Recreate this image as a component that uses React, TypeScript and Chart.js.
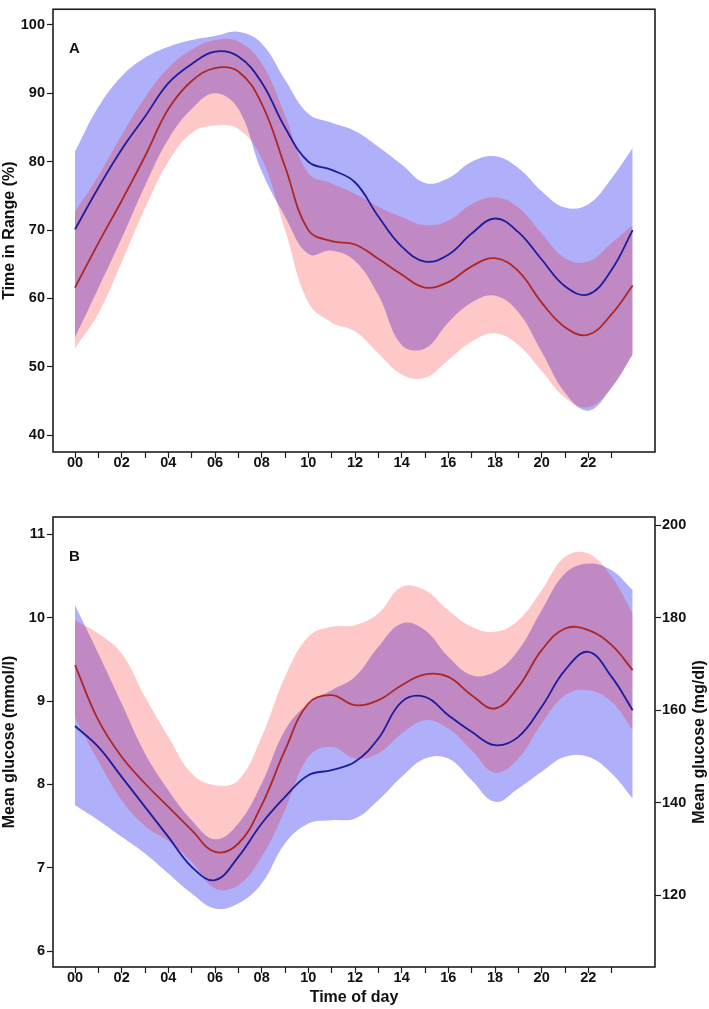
import React, { useEffect, useRef } from 'react';
import { Chart, registerables } from 'chart.js';

Chart.register(...registerables);

// ---------- data ----------
const hours = [0, 1, 2, 3, 4, 5, 6, 7, 8, 9, 10, 11, 12, 13, 14, 15, 16, 17, 18, 19, 20, 21, 22, 23, 23.9];
const hourTicks = [0, 1, 2, 3, 4, 5, 6, 7, 8, 9, 10, 11, 12, 13, 14, 15, 16, 17, 18, 19, 20, 21, 22, 23];
const hourTickLabels = ['00', '', '02', '', '04', '', '06', '', '08', '', '10', '', '12', '', '14', '', '16', '', '18', '', '20', '', '22', ''];

const tirTicks = [40, 50, 60, 70, 80, 90, 100];
const mmolTicks = [6, 7, 8, 9, 10, 11];
const mgdlTicks = [120, 140, 160, 180, 200];

// Panel A: Time in Range (%)
const tirBlueMean = [70.1, 76.2, 81.8, 86.6, 91.5, 94.3, 96.1, 95.4, 91.6, 85.0, 80.0, 78.8, 77.0, 72.0, 67.6, 65.4, 66.4, 69.5, 71.7, 69.7, 65.7, 61.8, 60.6, 64.2, 70.0];
const tirBlueUpper = [81.5, 88.0, 92.5, 95.2, 96.8, 97.8, 98.4, 99.0, 97.3, 92.0, 87.0, 85.7, 84.5, 82.2, 79.6, 76.9, 77.6, 80.0, 80.8, 79.1, 75.7, 73.3, 73.8, 77.6, 82.0];
const tirBlueLower = [54.3, 61.5, 68.8, 76.5, 83.3, 87.7, 90.0, 87.7, 78.6, 72.0, 66.5, 67.0, 65.5, 60.5, 53.2, 52.7, 56.5, 59.4, 60.4, 58.0, 52.2, 46.2, 43.6, 47.0, 51.8];
const tirRedMean = [61.6, 68.1, 74.3, 80.8, 87.7, 91.8, 93.7, 93.2, 88.5, 79.3, 70.0, 68.4, 67.9, 65.8, 63.5, 61.6, 62.4, 64.7, 65.9, 64.0, 59.4, 55.8, 54.7, 57.7, 61.9];
const tirRedUpper = [72.7, 77.9, 83.9, 89.4, 93.7, 96.4, 97.8, 97.6, 94.4, 86.8, 78.3, 76.8, 75.3, 73.4, 71.9, 70.7, 71.4, 73.8, 74.8, 73.3, 69.5, 65.9, 65.4, 68.1, 70.7];
const tirRedLower = [52.7, 57.8, 65.3, 73.2, 80.0, 84.2, 85.3, 84.8, 80.5, 70.0, 59.4, 56.5, 55.2, 52.0, 48.9, 48.4, 51.0, 53.7, 54.9, 53.2, 49.4, 45.5, 44.1, 47.0, 51.8];

// Panel B: Mean glucose (mmol/l)
const gluBlueMean = [8.70, 8.45, 8.09, 7.73, 7.37, 7.01, 6.85, 7.13, 7.53, 7.85, 8.11, 8.17, 8.27, 8.55, 8.99, 9.05, 8.83, 8.63, 8.47, 8.57, 8.93, 9.37, 9.59, 9.29, 8.89];
const gluBlueUpper = [10.15, 9.57, 8.97, 8.37, 7.93, 7.57, 7.34, 7.53, 8.01, 8.65, 8.97, 9.13, 9.29, 9.65, 9.93, 9.85, 9.53, 9.31, 9.35, 9.61, 10.09, 10.53, 10.65, 10.57, 10.33];
const gluBlueLower = [7.75, 7.57, 7.37, 7.17, 6.93, 6.69, 6.51, 6.57, 6.81, 7.29, 7.53, 7.57, 7.59, 7.81, 8.09, 8.31, 8.31, 8.05, 7.79, 7.95, 8.15, 8.33, 8.33, 8.13, 7.83];
const gluRedMean = [9.43, 8.77, 8.33, 8.01, 7.73, 7.45, 7.19, 7.29, 7.75, 8.41, 8.97, 9.07, 8.95, 9.01, 9.19, 9.32, 9.29, 9.07, 8.91, 9.17, 9.61, 9.87, 9.85, 9.67, 9.37];
const gluRedUpper = [9.97, 9.81, 9.57, 9.05, 8.57, 8.13, 7.99, 8.05, 8.57, 9.29, 9.77, 9.89, 9.91, 10.05, 10.37, 10.33, 10.09, 9.89, 9.83, 9.97, 10.33, 10.73, 10.77, 10.49, 10.05];
const gluRedLower = [8.80, 8.28, 7.81, 7.50, 7.32, 7.07, 6.75, 6.79, 7.13, 7.69, 8.33, 8.45, 8.31, 8.37, 8.61, 8.77, 8.67, 8.41, 8.14, 8.31, 8.73, 9.07, 9.13, 8.99, 8.65];

const MMOL_TO_MGDL = 18;

// ---------- styling ----------
const FONT = "'Liberation Sans', Arial, Helvetica, sans-serif";
const TEXT = '#111111';
const AXIS = '#1e1e1e';
const BLUE_LINE = '#1c1c9e';
const RED_LINE = '#ad2626';
const BLUE_BAND = 'rgb(175,175,250)';
const RED_BAND = 'rgba(255,0,0,0.215)';
const TENSION = 0.4;

const pts = (ys: number[]) => ys.map((y, i) => ({ x: hours[i], y }));

function lineDs(ys: number[], color: string) {
  return {
    data: pts(ys),
    borderColor: color,
    borderWidth: 1.8,
    pointRadius: 0,
    fill: false,
    tension: TENSION,
  };
}

function bandDs(upper: number[], lower: number[], color: string) {
  return [
    {
      data: pts(upper),
      borderColor: 'rgba(0,0,0,0)',
      borderWidth: 0,
      pointRadius: 0,
      backgroundColor: color,
      fill: '+1',
      tension: TENSION,
    },
    {
      data: pts(lower),
      borderColor: 'rgba(0,0,0,0)',
      borderWidth: 0,
      pointRadius: 0,
      fill: false,
      tension: TENSION,
    },
  ];
}

const decorPlugin = {
  id: 'panelDecor',
  afterDraw(chart: any, _args: any, opts: any) {
    const { ctx, chartArea } = chart;
    const { left, top, right, bottom } = chartArea;
    ctx.save();
    ctx.strokeStyle = AXIS;
    ctx.lineWidth = 1.6;
    ctx.strokeRect(left, top, right - left, bottom - top);
    ctx.fillStyle = TEXT;
    ctx.font = `bold 15px ${FONT}`;
    ctx.textAlign = 'center';
    ctx.textBaseline = 'middle';
    if (opts.label) ctx.fillText(opts.label, left + 21.5, top + 40);
    if (opts.rightTitle) {
      ctx.save();
      ctx.font = `bold 16px ${FONT}`;
      ctx.translate(chart.width - 9, (top + bottom) / 2);
      ctx.rotate(-Math.PI / 2);
      ctx.fillText(opts.rightTitle, 0, 0);
      ctx.restore();
    }
    ctx.restore();
  },
};

const tickFont = { family: FONT, size: 14.5, weight: 'bold' as const, lineHeight: 1 };
const titleFont = { family: FONT, size: 16, weight: 'bold' as const, lineHeight: 1.2 };

function xScale(height: number, title: string | null) {
  return {
    type: 'linear',
    min: -0.943,
    max: 24.857,
    afterBuildTicks: (s: any) => {
      s.ticks = hourTicks.map((v) => ({ value: v }));
    },
    afterFit: (s: any) => {
      s.height = height;
    },
    ticks: {
      autoSkip: false,
      maxRotation: 0,
      padding: -2,
      color: TEXT,
      font: tickFont,
      callback: (_v: any, i: number) => hourTickLabels[i],
    },
    grid: { drawOnChartArea: false, drawTicks: true, tickLength: 6, tickColor: AXIS, tickWidth: 1.2 },
    border: { display: false },
    title: title
      ? { display: true, text: title, color: TEXT, font: titleFont, padding: { top: 0, bottom: 2 } }
      : { display: false },
  };
}

function yScale(min: number, max: number, ticks: number[], position: string, width: number, title: string | null) {
  return {
    type: 'linear',
    position,
    min,
    max,
    afterBuildTicks: (s: any) => {
      s.ticks = ticks.map((v) => ({ value: v }));
    },
    afterFit: (s: any) => {
      s.width = width;
    },
    ticks: { padding: position === 'left' ? 2 : 1, color: TEXT, font: tickFont },
    grid: { drawOnChartArea: false, drawTicks: true, tickLength: 6, tickColor: AXIS, tickWidth: 1.2 },
    border: { display: false },
    title: title
      ? { display: true, text: title, color: TEXT, font: titleFont, padding: { top: 0, bottom: 0 } }
      : { display: false },
  };
}

export default function App() {
  const refA = useRef<HTMLCanvasElement | null>(null);
  const refB = useRef<HTMLCanvasElement | null>(null);

  useEffect(() => {
    // datasets are drawn last-to-first: blue band, then red band, then the lines
    const chartA = new Chart(refA.current as HTMLCanvasElement, {
      type: 'line',
      data: {
        datasets: [
          lineDs(tirBlueMean, BLUE_LINE),
          lineDs(tirRedMean, RED_LINE),
          ...bandDs(tirRedUpper, tirRedLower, RED_BAND),
          ...bandDs(tirBlueUpper, tirBlueLower, BLUE_BAND),
        ] as any,
      },
      options: {
        responsive: false,
        animation: false,
        layout: { padding: { top: 2, right: 54, left: 0, bottom: 0 } },
        plugins: {
          legend: { display: false },
          tooltip: { enabled: false },
          panelDecor: { label: 'A' },
        } as any,
        scales: {
          x: xScale(38, null),
          y: yScale(37.55, 102.3, tirTicks, 'left', 53, 'Time in Range (%)'),
        } as any,
      },
      plugins: [decorPlugin],
    });

    const bMin = 5.808;
    const bMax = 11.208;
    const chartB = new Chart(refB.current as HTMLCanvasElement, {
      type: 'line',
      data: {
        datasets: [
          lineDs(gluBlueMean, BLUE_LINE),
          lineDs(gluRedMean, RED_LINE),
          ...bandDs(gluRedUpper, gluRedLower, RED_BAND),
          ...bandDs(gluBlueUpper, gluBlueLower, BLUE_BAND),
        ] as any,
      },
      options: {
        responsive: false,
        animation: false,
        layout: { padding: { top: 27, right: 0, left: 0, bottom: 0 } },
        plugins: {
          legend: { display: false },
          tooltip: { enabled: false },
          panelDecor: { label: 'B', rightTitle: 'Mean glucose (mg/dl)' },
        } as any,
        scales: {
          x: xScale(42, 'Time of day'),
          y: yScale(bMin, bMax, mmolTicks, 'left', 53, 'Mean glucose (mmol/l)'),
          y2: {
            ...yScale(bMin * MMOL_TO_MGDL, bMax * MMOL_TO_MGDL, mgdlTicks, 'right', 54, null),
            display: true,
          },
        } as any,
      },
      plugins: [decorPlugin],
    });

    return () => {
      chartA.destroy();
      chartB.destroy();
    };
  }, []);

  return (
    <div style={{ position: 'absolute', left: 0, top: 0, width: 709, height: 1009, background: '#ffffff' }}>
      <canvas
        ref={refA}
        width={709}
        height={490}
        style={{ position: 'absolute', left: 0, top: 0, width: 709, height: 490 }}
      />
      <canvas
        ref={refB}
        width={709}
        height={519}
        style={{ position: 'absolute', left: 0, top: 490, width: 709, height: 519 }}
      />
    </div>
  );
}
